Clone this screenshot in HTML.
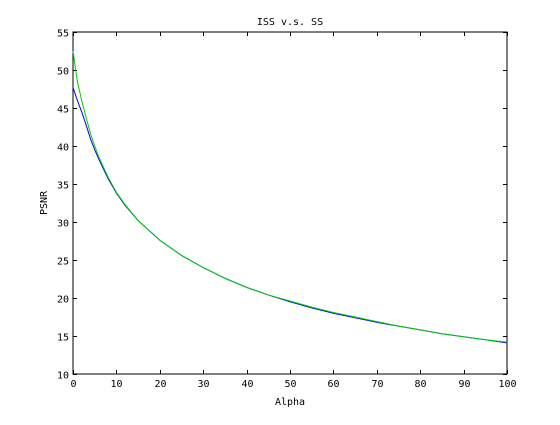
<!DOCTYPE html>
<html><head><meta charset="utf-8"><style>
body{margin:0;background:#fff;}
svg text{font-family:"DejaVu Sans Mono","Liberation Mono",monospace;font-size:10px;fill:#000;}
</style></head><body>
<svg id="chart" width="560" height="420" xmlns="http://www.w3.org/2000/svg">
<rect x="0" y="0" width="560" height="420" fill="#fff"/>
<text x="290" y="25" text-anchor="middle">ISS v.s. SS</text>
<text x="290" y="405" text-anchor="middle">Alpha</text>
<text x="0" y="0" text-anchor="middle" transform="translate(47,203) rotate(-90)">PSNR</text>
<g id="axes"></g>
<g id="series"></g>
</svg>
<script>
const xTicks=[0,10,20,30,40,50,60,70,80,90,100];
const yTicks=[10,15,20,25,30,35,40,45,50,55];
const alphas=[0,1,2,3,4,5,6,8,10,12,15,20,25,30,35,40,45,50,55,60,65,70,75,80,85,90,95,100];
const issValues=[47.7,46.0,44.5,42.8,41.0,39.5,38.2,35.8,33.8,32.2,30.2,27.6,25.6,24.0,22.6,21.4,20.4,19.5,18.7,18.0,17.4,16.8,16.3,15.8,15.3,14.9,14.5,14.1];
const ssValues=[52.5,48.5,46.0,43.8,41.7,40.0,38.5,36.0,33.9,32.3,30.2,27.6,25.6,24.0,22.6,21.4,20.4,19.6,18.8,18.1,17.5,16.9,16.3,15.8,15.3,14.9,14.5,14.2];
const L=73,R=507,T=32,B=374;
const xs=v=>L+(v-0)/(100-0)*(R-L);
const ys=v=>B-(v-10)/(55-10)*(B-T);
const NS="http://www.w3.org/2000/svg";
const axes=document.getElementById('axes');
function mk(tag,attrs,parent){const e=document.createElementNS(NS,tag);for(const k in attrs)e.setAttribute(k,attrs[k]);parent.appendChild(e);return e;}
const frame=mk('rect',{x:L,y:T,width:R-L,height:B-T,fill:'none',stroke:'#000','stroke-width':1},axes);


xTicks.forEach(t=>{const x=Math.round(xs(t))+0.5;
 mk('line',{x1:x,y1:B,x2:x,y2:B-4,stroke:'#000'},axes);
 mk('line',{x1:x,y1:T,x2:x,y2:T+4,stroke:'#000'},axes);
 const tx=mk('text',{x:x,y:B+13,'text-anchor':'middle'},axes);tx.textContent=t;
 
 
});
yTicks.forEach(t=>{const y=Math.round(ys(t))+0.5;
 mk('line',{x1:L,y1:y,x2:L+4,y2:y,stroke:'#000'},axes);
 mk('line',{x1:R,y1:y,x2:R-4,y2:y,stroke:'#000'},axes);
 const tx=mk('text',{x:L-4,y:y+4,'text-anchor':'end'},axes);tx.textContent=t;
 
 
});
const ser=document.getElementById('series');
function line(vals,color,name){
 const p=mk('polyline',{points:alphas.map((a,i)=>xs(a)+','+ys(vals[i])).join(' '),fill:'none',stroke:color,'stroke-width':1},ser);
 
 
}
line(issValues,'#0000ff','iss-line');
line(ssValues,'#00cc00','ss-line');
</script>
</body></html>
